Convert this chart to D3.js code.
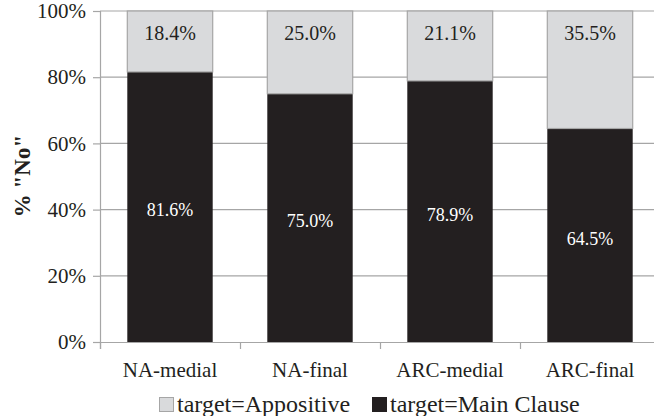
<!DOCTYPE html>
<html><head><meta charset="utf-8">
<script src="https://cdn.jsdelivr.net/npm/d3@7"></script>
</head><body style="margin:0;background:#fff">
<svg id="c" width="654" height="416" style="display:block"></svg>
<script>
const categories = ["NA-medial","NA-final","ARC-medial","ARC-final"];
const mainClause = [81.6, 75.0, 78.9, 64.5];
const appositive = [18.4, 25.0, 21.1, 35.5];
const yTicks = [0,20,40,60,80,100];
const seriesNames = ["target=Appositive","target=Main Clause"];

const FONT = '"Liberation Serif"';
const INK = "#231f20";
const svg = d3.select("#c");
const x = d3.scaleBand().domain(categories).range([100,660]).paddingInner(0.39).paddingOuter(0.195);
const y = d3.scaleLinear().domain([0,100]).range([342,11]);

svg.append("g").selectAll("line").data(yTicks.filter(d=>d>0)).join("line")
  .attr("x1",100).attr("x2",660).attr("y1",d=>y(d)).attr("y2",d=>y(d))
  .attr("stroke","#a6a6a6").attr("stroke-width",1.2);

const ya = svg.append("g").attr("transform","translate(100,0)")
  .call(d3.axisLeft(y).tickValues(yTicks).tickFormat(d=>d+"%").tickSize(7).tickPadding(7));
ya.select(".domain").attr("stroke","#a6a6a6").attr("stroke-width",1.2);
ya.selectAll(".tick line").attr("stroke","#a6a6a6").attr("stroke-width",1.2);
ya.selectAll("text").attr("font-size",21).attr("fill",INK).style("font-family",FONT);

const xa = svg.append("g").attr("transform","translate(0,342)")
  .call(d3.axisBottom(d3.scaleLinear().domain([0,4]).range([100,660])).tickValues([0,1,2,3,4]).tickFormat("").tickSize(7));
xa.select(".domain").attr("stroke","#a6a6a6").attr("stroke-width",1.2);
xa.selectAll(".tick line").attr("stroke","#a6a6a6").attr("stroke-width",1.2);
svg.append("g").selectAll("text").data(categories).join("text")
  .attr("x",d=>x(d)+x.bandwidth()/2).attr("y",377).attr("text-anchor","middle")
  .attr("font-size",21).attr("fill",INK).style("font-family",FONT).text(d=>d);

const rows = categories.map((c,i)=>({c, m:mainClause[i], a:appositive[i]}));
const g = svg.append("g");
g.selectAll("rect.m").data(rows).join("rect").attr("class","m")
  .attr("x",d=>x(d.c)).attr("width",x.bandwidth())
  .attr("y",d=>y(d.m)).attr("height",d=>y(0)-y(d.m)).attr("fill",INK);
g.selectAll("rect.a").data(rows).join("rect").attr("class","a")
  .attr("x",d=>x(d.c)).attr("width",x.bandwidth())
  .attr("y",d=>y(d.m+d.a)).attr("height",d=>y(d.m)-y(d.m+d.a))
  .attr("fill","#d9dadc").attr("stroke","#a6a6a6").attr("stroke-width",1.2);

g.selectAll("text.m").data(rows).join("text").attr("class","m")
  .attr("x",d=>x(d.c)+x.bandwidth()/2).attr("y",d=>(y(0)+y(d.m))/2+3)
  .attr("dy","0.35em").attr("text-anchor","middle").attr("font-size",18).attr("fill","#fff")
  .style("font-family",FONT).text(d=>d.m.toFixed(1)+"%");
g.selectAll("text.a").data(rows).join("text").attr("class","a")
  .attr("x",d=>x(d.c)+x.bandwidth()/2).attr("y",d=>y(d.m+d.a)+22)
  .attr("dy","0.35em").attr("text-anchor","middle").attr("font-size",20).attr("fill",INK)
  .style("font-family",FONT).text(d=>d.a.toFixed(1)+"%");

svg.append("text").attr("transform","translate(30,176) rotate(-90)").attr("text-anchor","middle")
  .attr("font-size",23).attr("font-weight","bold").attr("fill",INK).style("font-family",FONT).text('% "No"');

const leg = [{n:seriesNames[0],f:"#d9dadc",s:"#a6a6a6",x:159},{n:seriesNames[1],f:INK,s:INK,x:372}];
const lg = svg.append("g").selectAll("g").data(leg).join("g").attr("transform",d=>`translate(${d.x},397)`);
lg.append("rect").attr("x",0.5).attr("y",0.5).attr("width",14).attr("height",14).attr("fill",d=>d.f).attr("stroke",d=>d.s);
lg.append("text").attr("x",18).attr("y",15).attr("font-size",24).attr("fill",INK).style("font-family",FONT).text(d=>d.n);
</script></body></html>
